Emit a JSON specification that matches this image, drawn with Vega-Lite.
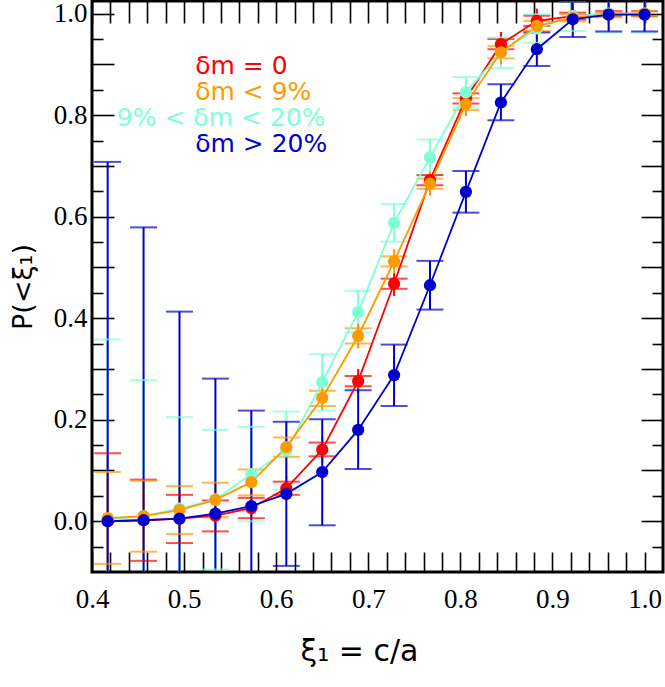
{
  "$schema": "https://vega.github.io/schema/vega-lite/v6.json",
  "width": 571,
  "height": 571,
  "autosize": "none",
  "padding": {"left": 92, "top": 1, "right": 2, "bottom": 115},
  "background": "white",
  "config": {
    "view": {"stroke": "black", "strokeWidth": 3},
    "axis": {
      "domain": false, "grid": false, "tickColor": "black", "tickWidth": 1.6,
      "labelFontSize": 27, "labelColor": "black",
      "labelOverlap": false, "labelFlush": false,
      "titleFont": "DejaVu Sans", "titleFontWeight": "normal", "titleColor": "black"
    }
  },
  "data": {"values": [
    {"series": "δm = 0", "x": 0.417, "y": 0.0, "lo": -0.134, "hi": 0.134, "vlo": -0.134, "vhi": 0.134},
    {"series": "δm = 0", "x": 0.456, "y": 0.002, "lo": -0.078, "hi": 0.082, "vlo": -0.078, "vhi": 0.082},
    {"series": "δm = 0", "x": 0.495, "y": 0.005, "lo": -0.043, "hi": 0.052, "vlo": -0.043, "vhi": 0.052},
    {"series": "δm = 0", "x": 0.534, "y": 0.011, "lo": -0.02, "hi": 0.041, "vlo": -0.02, "vhi": 0.041},
    {"series": "δm = 0", "x": 0.573, "y": 0.026, "lo": 0.006, "hi": 0.046, "vlo": 0.006, "vhi": 0.046},
    {"series": "δm = 0", "x": 0.611, "y": 0.065, "lo": 0.052, "hi": 0.078, "vlo": 0.041, "vhi": 0.089},
    {"series": "δm = 0", "x": 0.65, "y": 0.141, "lo": 0.128, "hi": 0.155, "vlo": 0.117, "vhi": 0.165},
    {"series": "δm = 0", "x": 0.689, "y": 0.276, "lo": 0.266, "hi": 0.286, "vlo": 0.252, "vhi": 0.3},
    {"series": "δm = 0", "x": 0.728, "y": 0.468, "lo": 0.458, "hi": 0.478, "vlo": 0.444, "vhi": 0.492},
    {"series": "δm = 0", "x": 0.767, "y": 0.672, "lo": 0.662, "hi": 0.682, "vlo": 0.648, "vhi": 0.696},
    {"series": "δm = 0", "x": 0.806, "y": 0.833, "lo": 0.823, "hi": 0.843, "vlo": 0.809, "vhi": 0.857},
    {"series": "δm = 0", "x": 0.844, "y": 0.94, "lo": 0.93, "hi": 0.95, "vlo": 0.916, "vhi": 0.964},
    {"series": "δm = 0", "x": 0.883, "y": 0.986, "lo": 0.976, "hi": 0.996, "vlo": 0.962, "vhi": 1.01},
    {"series": "δm = 0", "x": 0.922, "y": 0.995, "lo": 0.988, "hi": 1.002, "vlo": 0.975, "vhi": 1.015},
    {"series": "δm = 0", "x": 0.961, "y": 1.0, "lo": 0.995, "hi": 1.005, "vlo": 0.99, "vhi": 1.01},
    {"series": "δm = 0", "x": 1.0, "y": 1.0, "lo": 0.995, "hi": 1.005, "vlo": 0.99, "vhi": 1.01},

    {"series": "9% < δm < 20%", "x": 0.417, "y": 0.003, "lo": -0.352, "hi": 0.358, "vlo": -0.352, "vhi": 0.358},
    {"series": "9% < δm < 20%", "x": 0.456, "y": 0.01, "lo": -0.258, "hi": 0.278, "vlo": -0.258, "vhi": 0.278},
    {"series": "9% < δm < 20%", "x": 0.495, "y": 0.025, "lo": -0.155, "hi": 0.205, "vlo": -0.155, "vhi": 0.205},
    {"series": "9% < δm < 20%", "x": 0.534, "y": 0.043, "lo": -0.095, "hi": 0.18, "vlo": -0.095, "vhi": 0.18},
    {"series": "9% < δm < 20%", "x": 0.573, "y": 0.093, "lo": 0.0, "hi": 0.186, "vlo": 0.0, "vhi": 0.186},
    {"series": "9% < δm < 20%", "x": 0.611, "y": 0.139, "lo": 0.062, "hi": 0.216, "vlo": 0.062, "vhi": 0.216},
    {"series": "9% < δm < 20%", "x": 0.65, "y": 0.274, "lo": 0.218, "hi": 0.329, "vlo": 0.218, "vhi": 0.329},
    {"series": "9% < δm < 20%", "x": 0.689, "y": 0.412, "lo": 0.372, "hi": 0.454, "vlo": 0.372, "vhi": 0.454},
    {"series": "9% < δm < 20%", "x": 0.728, "y": 0.588, "lo": 0.551, "hi": 0.625, "vlo": 0.551, "vhi": 0.625},
    {"series": "9% < δm < 20%", "x": 0.767, "y": 0.717, "lo": 0.682, "hi": 0.752, "vlo": 0.682, "vhi": 0.752},
    {"series": "9% < δm < 20%", "x": 0.806, "y": 0.845, "lo": 0.815, "hi": 0.875, "vlo": 0.815, "vhi": 0.875},
    {"series": "9% < δm < 20%", "x": 0.844, "y": 0.923, "lo": 0.893, "hi": 0.953, "vlo": 0.893, "vhi": 0.953},
    {"series": "9% < δm < 20%", "x": 0.883, "y": 0.971, "lo": 0.943, "hi": 0.999, "vlo": 0.943, "vhi": 0.999},
    {"series": "9% < δm < 20%", "x": 0.922, "y": 0.995, "lo": 0.966, "hi": 1.024, "vlo": 0.966, "vhi": 1.024},
    {"series": "9% < δm < 20%", "x": 0.961, "y": 1.0, "lo": 0.963, "hi": 1.037, "vlo": 0.963, "vhi": 1.037},
    {"series": "9% < δm < 20%", "x": 1.0, "y": 1.0, "lo": 0.963, "hi": 1.037, "vlo": 0.963, "vhi": 1.037},

    {"series": "δm < 9%", "x": 0.417, "y": 0.006, "lo": -0.084, "hi": 0.097, "vlo": -0.084, "vhi": 0.097},
    {"series": "δm < 9%", "x": 0.456, "y": 0.01, "lo": -0.06, "hi": 0.08, "vlo": -0.06, "vhi": 0.08},
    {"series": "δm < 9%", "x": 0.495, "y": 0.022, "lo": -0.025, "hi": 0.069, "vlo": -0.025, "vhi": 0.069},
    {"series": "δm < 9%", "x": 0.534, "y": 0.042, "lo": 0.008, "hi": 0.076, "vlo": 0.008, "vhi": 0.076},
    {"series": "δm < 9%", "x": 0.573, "y": 0.077, "lo": 0.051, "hi": 0.102, "vlo": 0.051, "vhi": 0.102},
    {"series": "δm < 9%", "x": 0.611, "y": 0.146, "lo": 0.127, "hi": 0.165, "vlo": 0.122, "vhi": 0.17},
    {"series": "δm < 9%", "x": 0.65, "y": 0.243, "lo": 0.227, "hi": 0.257, "vlo": 0.219, "vhi": 0.267},
    {"series": "δm < 9%", "x": 0.689, "y": 0.365, "lo": 0.35, "hi": 0.38, "vlo": 0.341, "vhi": 0.389},
    {"series": "δm < 9%", "x": 0.728, "y": 0.512, "lo": 0.502, "hi": 0.522, "vlo": 0.488, "vhi": 0.536},
    {"series": "δm < 9%", "x": 0.767, "y": 0.665, "lo": 0.655, "hi": 0.675, "vlo": 0.641, "vhi": 0.689},
    {"series": "δm < 9%", "x": 0.806, "y": 0.822, "lo": 0.81, "hi": 0.834, "vlo": 0.798, "vhi": 0.846},
    {"series": "δm < 9%", "x": 0.844, "y": 0.924, "lo": 0.912, "hi": 0.936, "vlo": 0.9, "vhi": 0.948},
    {"series": "δm < 9%", "x": 0.883, "y": 0.976, "lo": 0.966, "hi": 0.986, "vlo": 0.952, "vhi": 1.0},
    {"series": "δm < 9%", "x": 0.922, "y": 0.992, "lo": 0.985, "hi": 0.999, "vlo": 0.972, "vhi": 1.01},
    {"series": "δm < 9%", "x": 0.961, "y": 0.998, "lo": 0.993, "hi": 1.003, "vlo": 0.985, "vhi": 1.01},
    {"series": "δm < 9%", "x": 1.0, "y": 1.0, "lo": 0.995, "hi": 1.005, "vlo": 0.99, "vhi": 1.01},

    {"series": "δm > 20%", "x": 0.417, "y": 0.0, "lo": -0.708, "hi": 0.708, "vlo": -0.708, "vhi": 0.708},
    {"series": "δm > 20%", "x": 0.456, "y": 0.002, "lo": -0.575, "hi": 0.579, "vlo": -0.575, "vhi": 0.579},
    {"series": "δm > 20%", "x": 0.495, "y": 0.005, "lo": -0.403, "hi": 0.413, "vlo": -0.403, "vhi": 0.413},
    {"series": "δm > 20%", "x": 0.534, "y": 0.015, "lo": -0.251, "hi": 0.281, "vlo": -0.251, "vhi": 0.281},
    {"series": "δm > 20%", "x": 0.573, "y": 0.03, "lo": -0.158, "hi": 0.218, "vlo": -0.158, "vhi": 0.218},
    {"series": "δm > 20%", "x": 0.611, "y": 0.054, "lo": -0.088, "hi": 0.196, "vlo": -0.088, "vhi": 0.196},
    {"series": "δm > 20%", "x": 0.65, "y": 0.097, "lo": -0.008, "hi": 0.201, "vlo": -0.008, "vhi": 0.201},
    {"series": "δm > 20%", "x": 0.689, "y": 0.18, "lo": 0.103, "hi": 0.258, "vlo": 0.103, "vhi": 0.258},
    {"series": "δm > 20%", "x": 0.728, "y": 0.288, "lo": 0.227, "hi": 0.348, "vlo": 0.227, "vhi": 0.348},
    {"series": "δm > 20%", "x": 0.767, "y": 0.465, "lo": 0.417, "hi": 0.513, "vlo": 0.417, "vhi": 0.513},
    {"series": "δm > 20%", "x": 0.806, "y": 0.649, "lo": 0.608, "hi": 0.69, "vlo": 0.608, "vhi": 0.69},
    {"series": "δm > 20%", "x": 0.844, "y": 0.825, "lo": 0.79, "hi": 0.861, "vlo": 0.79, "vhi": 0.861},
    {"series": "δm > 20%", "x": 0.883, "y": 0.93, "lo": 0.897, "hi": 0.963, "vlo": 0.897, "vhi": 0.963},
    {"series": "δm > 20%", "x": 0.922, "y": 0.989, "lo": 0.954, "hi": 1.024, "vlo": 0.954, "vhi": 1.024},
    {"series": "δm > 20%", "x": 0.961, "y": 0.998, "lo": 0.965, "hi": 1.031, "vlo": 0.965, "vhi": 1.031},
    {"series": "δm > 20%", "x": 1.0, "y": 0.998, "lo": 0.965, "hi": 1.031, "vlo": 0.965, "vhi": 1.031}
  ]},
  "resolve": {"axis": {"x": "independent", "y": "independent"}},
  "layer": [
    {
      "mark": {"type": "rule", "clip": true, "strokeWidth": 2},
      "encoding": {
        "x": {
          "field": "x", "type": "quantitative",
          "scale": {"domain": [0.4, 1.02], "nice": false, "zero": false},
          "axis": {
            "orient": "bottom",
            "values": [0.4,0.42,0.44,0.46,0.48,0.5,0.52,0.54,0.56,0.58,0.6,0.62,0.64,0.66,0.68,0.7,0.72,0.74,0.76,0.78,0.8,0.82,0.84,0.86,0.88,0.9,0.92,0.94,0.96,0.98,1.0],
            "tickSize": -20,
            "labelExpr": "abs(datum.value*10 - round(datum.value*10)) < 0.01 ? format(datum.value, '.1f') : ''",
            "labelFont": "Liberation Serif",
            "labelPadding": 34,
            "title": "ξ₁ = c/a", "titleFontSize": 30, "titlePadding": 24, "titleX": 267
          }
        },
        "y": {
          "field": "vlo", "type": "quantitative",
          "scale": {"domain": [-0.1, 1.025], "nice": false, "zero": false},
          "axis": {
            "orient": "left",
            "values": [0,0.1,0.2,0.3,0.4,0.5,0.6,0.7,0.8,0.9,1.0],
            "tickSize": -22,
            "labelExpr": "round(datum.value*10) % 2 == 0 ? format(datum.value, '.1f') : ''",
            "labelFont": "Liberation Serif",
            "labelPadding": 27,
            "title": "P(<ξ₁)", "titleFontSize": 27, "titlePadding": 16
          }
        },
        "y2": {"field": "vhi"},
        "color": {
          "field": "series", "type": "nominal",
          "scale": {"domain": ["δm = 0", "δm < 9%", "9% < δm < 20%", "δm > 20%"], "range": ["#ff0000", "#ff9900", "#7fffd4", "#0000cc"]},
          "legend": null
        }
      }
    },
    {
      "mark": {"type": "tick", "orient": "horizontal", "clip": true, "size": 27, "thickness": 2},
      "encoding": {
        "x": {
          "field": "x", "type": "quantitative",
          "axis": {
            "orient": "top",
            "values": [0.4,0.42,0.44,0.46,0.48,0.5,0.52,0.54,0.56,0.58,0.6,0.62,0.64,0.66,0.68,0.7,0.72,0.74,0.76,0.78,0.8,0.82,0.84,0.86,0.88,0.9,0.92,0.94,0.96,0.98,1.0],
            "tickSize": -22, "labels": false, "title": null
          }
        },
        "y": {
          "field": "lo", "type": "quantitative",
          "axis": {
            "orient": "right",
            "values": [0,0.1,0.2,0.3,0.4,0.5,0.6,0.7,0.8,0.9,1.0],
            "tickSize": -22, "labels": false, "title": null
          }
        },
        "color": {"field": "series", "type": "nominal", "legend": null}
      }
    },
    {
      "mark": {"type": "tick", "orient": "horizontal", "clip": true, "size": 27, "thickness": 2},
      "encoding": {
        "x": {"field": "x", "type": "quantitative", "axis": null},
        "y": {
          "field": "hi", "type": "quantitative",
          "axis": {
            "orient": "left",
            "values": [-0.05,0.05,0.15,0.25,0.35,0.45,0.55,0.65,0.75,0.85,0.95],
            "tickSize": -11, "labels": false, "title": null
          }
        },
        "color": {"field": "series", "type": "nominal", "legend": null}
      }
    },
    {
      "mark": {"type": "line", "clip": true, "strokeWidth": 1.8},
      "encoding": {
        "x": {"field": "x", "type": "quantitative", "axis": null},
        "y": {
          "field": "y", "type": "quantitative",
          "axis": {
            "orient": "right",
            "values": [-0.05,0.05,0.15,0.25,0.35,0.45,0.55,0.65,0.75,0.85,0.95],
            "tickSize": -11, "labels": false, "title": null
          }
        },
        "color": {"field": "series", "type": "nominal", "legend": null}
      }
    },
    {
      "mark": {"type": "circle", "clip": true, "size": 150, "opacity": 1},
      "encoding": {
        "x": {"field": "x", "type": "quantitative", "axis": null},
        "y": {"field": "y", "type": "quantitative", "axis": null},
        "color": {"field": "series", "type": "nominal", "legend": null}
      }
    },
    {
      "data": {"values": [{"label": "δm = 0"}]},
      "mark": {"type": "text", "align": "left", "baseline": "alphabetic", "font": "DejaVu Sans", "fontSize": 25},
      "encoding": {
        "x": {"datum": 0.512, "type": "quantitative", "axis": null},
        "y": {"datum": 0.882, "type": "quantitative", "axis": null},
        "text": {"field": "label"},
        "color": {"field": "label", "type": "nominal", "legend": null}
      }
    },
    {
      "data": {"values": [{"label": "δm < 9%"}]},
      "mark": {"type": "text", "align": "left", "baseline": "alphabetic", "font": "DejaVu Sans", "fontSize": 25},
      "encoding": {
        "x": {"datum": 0.512, "type": "quantitative", "axis": null},
        "y": {"datum": 0.83, "type": "quantitative", "axis": null},
        "text": {"field": "label"},
        "color": {"field": "label", "type": "nominal", "legend": null}
      }
    },
    {
      "data": {"values": [{"label": "9% < δm < 20%"}]},
      "mark": {"type": "text", "align": "left", "baseline": "alphabetic", "font": "DejaVu Sans", "fontSize": 25},
      "encoding": {
        "x": {"datum": 0.427, "type": "quantitative", "axis": null},
        "y": {"datum": 0.779, "type": "quantitative", "axis": null},
        "text": {"field": "label"},
        "color": {"field": "label", "type": "nominal", "legend": null}
      }
    },
    {
      "data": {"values": [{"label": "δm > 20%"}]},
      "mark": {"type": "text", "align": "left", "baseline": "alphabetic", "font": "DejaVu Sans", "fontSize": 25},
      "encoding": {
        "x": {"datum": 0.512, "type": "quantitative", "axis": null},
        "y": {"datum": 0.728, "type": "quantitative", "axis": null},
        "text": {"field": "label"},
        "color": {"field": "label", "type": "nominal", "legend": null}
      }
    }
  ]
}
